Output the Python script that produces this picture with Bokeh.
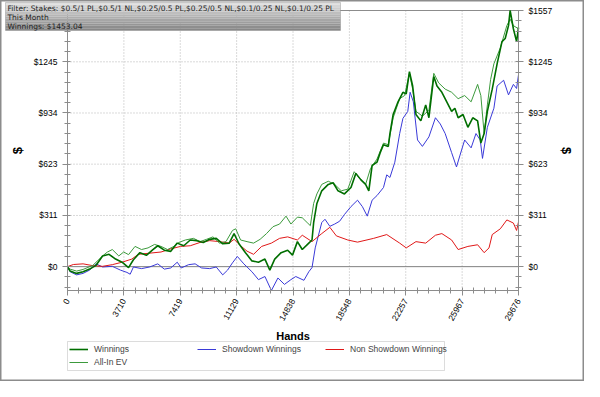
import math
from bokeh.plotting import figure
from bokeh.models import (Range1d, FixedTicker, NumeralTickFormatter, BasicTickFormatter,
                          LinearAxis, Legend, LegendItem, BoxAnnotation, Label)
from bokeh.embed import file_html
from bokeh.resources import INLINE

# ---------------- data ----------------
XTICKS = [0, 3710, 7419, 11129, 14838, 18548, 22257, 25967, 29676]
YTICKS = [0, 311, 623, 934, 1245, 1557]
Y_MIN = -145

FILTER_LINES = [
    "Filter: Stakes: $0.5/1 PL,$0.5/1 NL,$0.25/0.5 PL,$0.25/0.5 NL,$0.1/0.25 NL,$0.1/0.25 PL",
    "This Month",
    "Winnings: $1453.04",
]

win_hands = [0, 171, 598, 1026, 1453, 1880, 2308, 2735, 3163, 3590, 4017, 4338, 4765, 5192, 5619,
             5940, 6368, 6795, 7222, 7650, 8077, 8504, 8931, 9359, 9786, 10213, 10641, 10961, 11282,
             11711, 12136, 12564, 12991, 13313, 13634, 14057, 14487, 14807, 15128, 15448, 15878,
             16089, 16196, 16410, 16730, 17160, 17480, 17801, 18224, 18653, 18974, 19294, 19615,
             19827, 20044, 20365, 20576, 20792, 21108, 21217, 21429, 21750, 22070, 22288, 22500,
             22711, 22929, 23250, 23570, 23781, 24102, 24313, 24634, 24955, 25275, 25489, 25704,
             26025, 26345, 26666, 26986, 27198, 27415, 27627, 27948, 28268, 28589, 28801, 29018,
             29125, 29339, 29550, 29676]
win_vals = [0, -27, -41, -31, -15, 8, 65, 75, 46, 27, -6, 42, 85, 69, 104,
            127, 100, 93, 143, 127, 162, 158, 147, 166, 172, 139, 143, 201, 139,
            85, 35, 27, 46, -21, 46, 85, 100, 70, 152, 104, 143,
            162, 268, 384, 461, 500, 510, 461, 442, 481, 567, 529, 500,
            461, 615, 635, 693, 741, 731, 809, 925, 1002, 1060, 1050, 1185,
            1098, 925, 886, 983, 905, 1156, 1098, 1060, 1002, 944, 963, 905,
            925, 847, 905, 886, 751, 809, 944, 1079, 1233, 1368, 1387, 1465,
            1557, 1446, 1368, 1453]

ev_hands = [0, 171, 598, 1026, 1667, 2308, 2628, 2949, 3376, 3697, 4017, 4444, 4872, 5300, 5726,
            6154, 6581, 7008, 7329, 7756, 8290, 8718, 9145, 9572, 10000, 10427, 10855, 11068, 11390,
            11814, 12243, 12672, 13096, 13525, 13955, 14378, 14700, 15128, 15448, 15769, 15980,
            16196, 16410, 16730, 17160, 17583, 18012, 18441, 18865, 19294, 19615, 19935, 20365,
            20792, 21108, 21429, 21858, 22179, 22500, 22711, 22929, 23352, 23781, 24102, 24422,
            24852, 25275, 25704, 26134, 26558, 26986, 27198, 27415, 27627, 27840, 28057, 28480,
            28909, 29125, 29339, 29676]
ev_vals = [0, -15, -27, -17, 8, 65, 89, 104, 65, 89, 73, 123, 104, 114, 135,
           123, 104, 123, 147, 162, 172, 152, 166, 181, 143, 152, 220, 230, 162,
           152, 143, 166, 201, 243, 259, 307, 259, 301, 297, 268, 249,
           384, 442, 500, 519, 500, 461, 471, 577, 529, 500, 596, 654,
           751, 741, 905, 1021, 1040, 1175, 1079, 944, 915, 950, 1175, 1117,
           1079, 1060, 1021, 1040, 1002, 1108, 1040, 809, 983, 1137, 1233, 1330,
           1465, 1504, 1465, 1446]

sd_hands = [0, 171, 598, 1026, 1453, 1880, 2308, 2949, 3483, 3910, 4124, 4338, 4872, 5406, 5940,
            6368, 6795, 7222, 7478, 7970, 8397, 8825, 9359, 9786, 10213, 10534, 10855, 11175, 11602,
            12136, 12564, 12991, 13416, 13846, 14274, 14700, 15019, 15557, 15878, 16089, 16301,
            16730, 16942, 17263, 17583, 17904, 18224, 18653, 19083, 19403, 19724, 20044, 20365,
            20792, 21006, 21217, 21538, 21858, 22070, 22391, 22544, 22756, 23032, 23352, 23781,
            24211, 24531, 24852, 25275, 25596, 25813, 26134, 26558, 26878, 27160, 27307, 27627,
            28057, 28268, 28698, 29018, 29339, 29550, 29676]
sd_vals = [0, -31, -50, -41, -21, 17, -2, 2, -21, -35, -46, -2, -12, -2, 17,
           -15, -8, 27, -8, 12, 17, -8, -12, -2, -50, -21, 23, 62, 17,
           -31, -79, -60, -145, -69, -108, -79, -60, -83, -31, -6, 114,
           268, 288, 245, 259, 276, 317, 365, 404, 365, 307, 404, 432,
           481, 558, 542, 635, 809, 901, 944, 1060, 1002, 770, 731, 789,
           905, 867, 809, 693, 606, 673, 770, 722, 809, 770, 658, 847,
           963, 1098, 1133, 1044, 1108, 1083, 1166]

nsd_hands = [0, 385, 1026, 1667, 2308, 2949, 3590, 4231, 4658, 5300, 6154, 6795, 7436, 8077, 8718,
             9359, 10000, 10641, 10961, 11390, 11814, 12243, 12775, 13416, 13955, 14487, 15128,
             15448, 16089, 16730, 17263, 17692, 18441, 19083, 20147, 21006, 21858, 22288, 22929,
             23570, 24211, 24634, 25275, 25704, 26345, 26986, 27415, 27736, 27948, 28480, 28909,
             29339, 29550, 29676]
nsd_vals = [0, 13, 17, 6, 2, 12, 27, 46, 75, 81, 89, 108, 123, 127, 147,
            158, 152, 143, 166, 127, 94, 75, 123, 143, 172, 181, 162,
            191, 152, 201, 239, 187, 162, 149, 172, 195, 143, 114, 152,
            143, 191, 201, 162, 104, 123, 133, 85, 114, 195, 230, 284,
            265, 220, 272]

# ---------------- layout: the frame fills the canvas, axes are pinned inside ----------------
W, H = 584, 381
PX_L, PX_R, PX_T, PX_B = 67, 518, 10, 290     # where the data area sits on the canvas
x0, x1 = XTICKS[0], XTICKS[-1]
y0, y1 = Y_MIN, YTICKS[-1]
kx = (x1 - x0) / (PX_R - PX_L)
ky = (y1 - y0) / (PX_B - PX_T)
xr = Range1d(x0 - PX_L * kx, x1 + (W - PX_R) * kx)
yr = Range1d(y0 - (H - PX_B) * ky, y1 + PX_T * ky)

p = figure(width=W, height=H, output_backend="svg", toolbar_location=None,
           x_range=xr, y_range=yr, x_axis_location=None, y_axis_location=None,
           min_border=0, min_border_left=0, min_border_right=0, min_border_top=0,
           min_border_bottom=0, background_fill_color="white", border_fill_color="white")
p.outline_line_color = "#8c8c8c"
p.outline_line_width = 2
p.grid.visible = False


def minors(ticks, extra_below=0):
    out = []
    for a, b in zip(ticks[:-1], ticks[1:]):
        out += [a + (b - a) * k / 5 for k in range(1, 5)]
    step = (ticks[1] - ticks[0]) / 5
    out += [ticks[0] - step * k for k in range(1, extra_below + 1)]
    return out


xticker = FixedTicker(ticks=XTICKS, minor_ticks=minors(XTICKS))
yticker = FixedTicker(ticks=YTICKS, minor_ticks=minors(YTICKS, 2))

AX = "#8c8c8c"
FONT = "Liberation Sans"


def style_axis(ax):
    ax.axis_line_color = AX
    ax.major_tick_line_color = AX
    ax.minor_tick_line_color = AX
    ax.major_tick_in = 3
    ax.major_tick_out = 5
    ax.minor_tick_in = 3
    ax.minor_tick_out = 3
    ax.major_label_text_font = FONT
    ax.major_label_text_font_size = "8.5px"
    ax.major_label_text_color = "black"
    ax.axis_label_text_font = FONT
    ax.axis_label_text_font_style = "bold"
    ax.axis_label_text_color = "black"


xaxis = LinearAxis(ticker=xticker, formatter=BasicTickFormatter(use_scientific=False),
                   axis_label="Hands", major_label_orientation=math.pi / 3,
                   fixed_location=y0, bounds=(x0, x1))
style_axis(xaxis)
xaxis.axis_label_text_font_size = "11px"
xaxis.major_label_standoff = 4
xaxis.axis_label_standoff = 4

ylaxis = LinearAxis(ticker=yticker, formatter=NumeralTickFormatter(format="$0"), axis_label="$",
                    fixed_location=x0, bounds=(y0, y1))
style_axis(ylaxis)
ylaxis.axis_label_text_font_size = "13px"
ylaxis.axis_label_standoff = 6

yraxis = LinearAxis(ticker=yticker, formatter=NumeralTickFormatter(format="$0"), axis_label="$",
                    fixed_location=x1, bounds=(y0, y1))
style_axis(yraxis)
yraxis.axis_label_text_font_size = "13px"
yraxis.axis_label_standoff = 4

p.add_layout(xaxis, "below")
p.add_layout(ylaxis, "left")
p.add_layout(yraxis, "right")

# dotted grid inside the data area, zero line and top border
GRID = "#b4b4b4"
p.segment(x0=XTICKS[1:-1], y0=[y0] * (len(XTICKS) - 2), x1=XTICKS[1:-1], y1=[y1] * (len(XTICKS) - 2),
          line_color=GRID, line_dash="1 2", line_width=1)
p.segment(x0=[x0] * (len(YTICKS) - 2), y0=YTICKS[1:-1], x1=[x1] * (len(YTICKS) - 2), y1=YTICKS[1:-1],
          line_color=GRID, line_dash="1 2", line_width=1)
p.segment(x0=[x0], y0=[0], x1=[x1], y1=[0], line_color="#808080", line_width=1)
p.segment(x0=[x0], y0=[y1], x1=[x1], y1=[y1], line_color=AX, line_width=1)

# ---------------- series ----------------
C_WIN, C_EV, C_SD, C_NSD = "#006e00", "#3c9a3c", "#3a3ad8", "#e01818"
r_sd = p.line(sd_hands, sd_vals, line_color=C_SD, line_width=1)
r_nsd = p.line(nsd_hands, nsd_vals, line_color=C_NSD, line_width=1)
r_ev = p.line(ev_hands, ev_vals, line_color=C_EV, line_width=1)
r_win = p.line(win_hands, win_vals, line_color=C_WIN, line_width=1.6)

# ---------------- legend: a frame plus one small legend per entry ----------------
LG_L, LG_R, LG_T, LG_B = PX_L, 444, 341, 370
COL_W = 128
p.add_layout(BoxAnnotation(left=LG_L, right=LG_R, top=LG_T, bottom=LG_B,
                           left_units="canvas", right_units="canvas",
                           top_units="canvas", bottom_units="canvas",
                           fill_color="white", fill_alpha=1, line_color="#8c8c8c", line_width=1))

entries = [("Winnings", r_win, 0, 0), ("Showdown Winnings", r_sd, 1, 0),
           ("Non Showdown Winnings", r_nsd, 2, 0), ("All-In EV", r_ev, 0, 1)]
for label, rend, col, row in entries:
    bottom_y = 356 + row * 13
    p.add_layout(Legend(items=[LegendItem(label=label, renderers=[rend])],
                        location=(LG_L + col * COL_W, H - bottom_y),
                        label_text_font=FONT, label_text_font_size="8.5px",
                        label_height=10, glyph_width=19, glyph_height=10,
                        label_standoff=6, spacing=0, padding=2, margin=0,
                        border_line_alpha=0, background_fill_alpha=0), "center")

# ---------------- filter box (top-left) ----------------
BX0, BX1, BY0, BY1 = 5, 340, 2, 30
n = 12
for i in range(n):
    t = i / (n - 1)
    g = int(222 - t * (222 - 135))
    p.add_layout(BoxAnnotation(left=BX0, right=BX1,
                               top=BY0 + (BY1 - BY0) * i / n, bottom=BY0 + (BY1 - BY0) * (i + 1) / n,
                               left_units="canvas", right_units="canvas",
                               top_units="canvas", bottom_units="canvas",
                               fill_color="#%02x%02x%02x" % (g, g, g), fill_alpha=1,
                               line_alpha=0))
p.add_layout(BoxAnnotation(left=BX0, right=BX1, top=BY0, bottom=BY1,
                           left_units="canvas", right_units="canvas",
                           top_units="canvas", bottom_units="canvas",
                           fill_alpha=0, line_color="#6e6e6e", line_width=1))
for i, txt in enumerate(FILTER_LINES):
    p.add_layout(Label(x=7, y=3 + i * 9.3, x_units="canvas", y_units="canvas", text=txt,
                       text_baseline="top", text_font="DejaVu Sans", text_font_size="7.5px",
                       text_color="#1e1e1e"))

open("out.html", "w").write(file_html(p, INLINE))
